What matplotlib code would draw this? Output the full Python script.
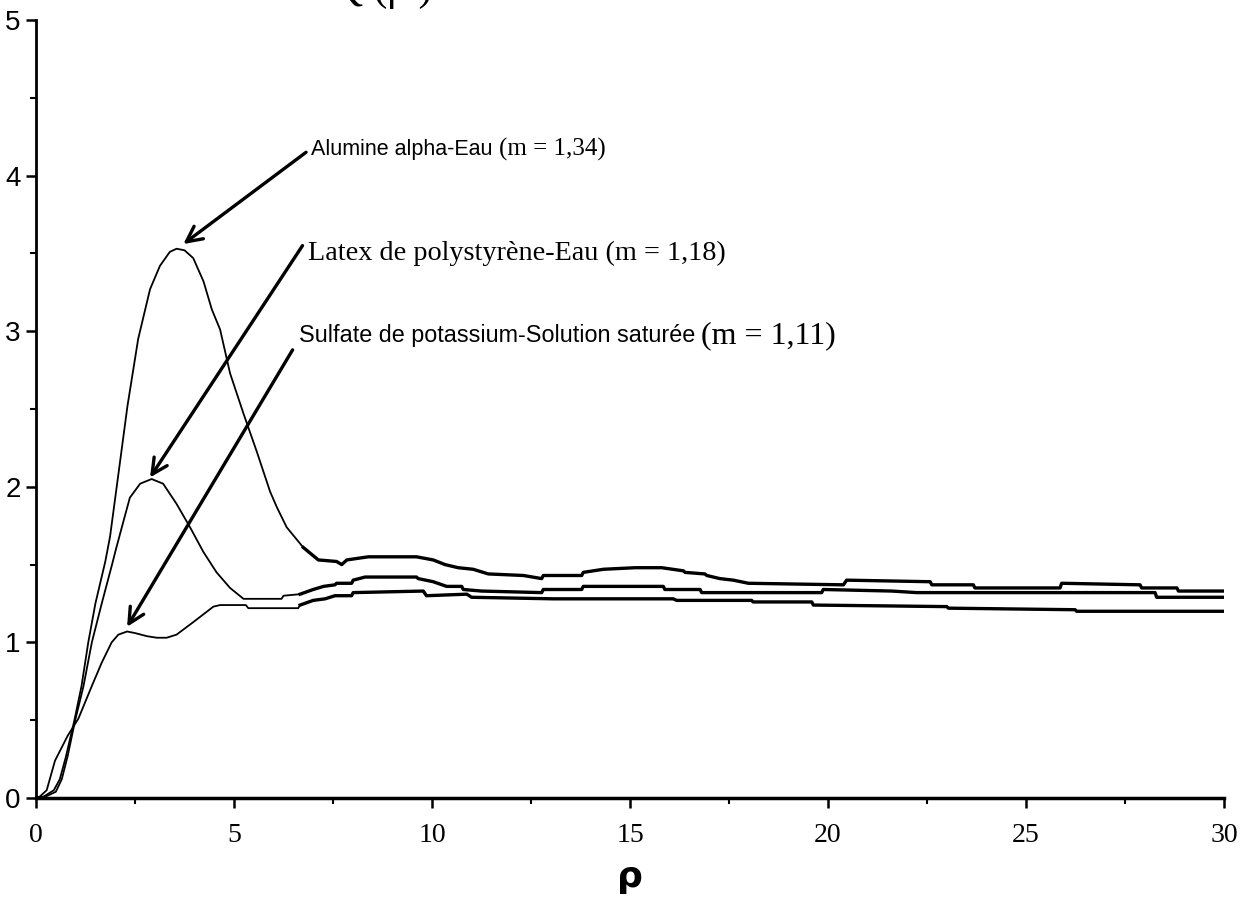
import matplotlib
matplotlib.use("Agg")
import matplotlib.pyplot as plt
from matplotlib.ticker import MultipleLocator

# Q(rho) curves
alumine_x = [0.0, 0.2, 0.45, 0.6, 0.75, 0.97, 1.15, 1.32, 1.5, 1.75, 1.87, 2.08, 2.31, 2.58,
             2.88, 3.13, 3.38, 3.55, 3.75, 3.97, 4.23, 4.44, 4.65, 4.9, 5.24, 5.57, 5.91, 6.08,
             6.33, 6.75, 7.13, 7.59, 7.72, 7.85, 8.39, 9.61, 10.03, 10.33, 10.66, 11.04, 11.42,
             12.31, 12.77, 12.81, 13.78, 13.82, 14.33, 15.13, 15.8, 16.35, 16.39, 16.89, 16.94,
             17.27, 17.61, 17.99, 20.39, 20.47, 22.58, 22.62, 23.67, 23.71, 25.86, 25.9, 27.88,
             27.92, 28.81, 28.85, 30.0]
alumine_y = [0.0, 0.01, 0.05, 0.12, 0.26, 0.5, 0.72, 1.0, 1.25, 1.52, 1.68, 2.08, 2.52, 2.95,
             3.27, 3.42, 3.51, 3.53, 3.52, 3.47, 3.32, 3.14, 3.01, 2.73, 2.47, 2.23, 1.97, 1.87,
             1.74, 1.61, 1.53, 1.52, 1.50, 1.53, 1.55, 1.55, 1.53, 1.50, 1.48, 1.47, 1.44,
             1.43, 1.41, 1.43, 1.43, 1.45, 1.47, 1.48, 1.48, 1.46, 1.45, 1.44, 1.43,
             1.41, 1.40, 1.38, 1.37, 1.40, 1.39, 1.37, 1.37, 1.35, 1.35, 1.38, 1.37,
             1.35, 1.35, 1.33, 1.33]

latex_x = [0.0, 0.25, 0.5, 0.65, 0.8, 0.99, 1.2, 1.41, 1.66, 1.92, 2.02, 2.21, 2.37, 2.63, 2.92,
           3.21, 3.55, 3.89, 4.23, 4.56, 4.9, 5.24, 6.2, 6.25, 6.67, 7.0, 7.26, 7.55, 7.59, 7.97,
           8.01, 8.31, 9.61, 9.65, 10.03, 10.37, 10.75, 10.79, 11.25, 12.77, 12.81, 13.78, 13.82,
           15.84, 15.88, 16.77, 16.81, 19.84, 19.88, 21.61, 22.24, 28.26, 28.3, 30.0]
latex_y = [0.0, 0.01, 0.04, 0.12, 0.27, 0.5, 0.72, 1.0, 1.25, 1.5, 1.6, 1.78, 1.93, 2.02, 2.05,
           2.02, 1.89, 1.74, 1.58, 1.45, 1.35, 1.28, 1.28, 1.30, 1.31, 1.34, 1.36, 1.37, 1.38, 1.38,
           1.40, 1.42, 1.42, 1.41, 1.39, 1.36, 1.36, 1.34, 1.33, 1.32, 1.34, 1.34, 1.36,
           1.36, 1.34, 1.34, 1.32, 1.32, 1.34, 1.33, 1.32, 1.32, 1.29, 1.29]

sulfate_x = [0.0, 0.1, 0.27, 0.48, 0.8, 1.07, 1.41, 1.66, 1.91, 2.08, 2.3, 2.5, 2.8, 3.05, 3.3,
             3.55, 3.97, 4.48, 4.65, 4.9, 5.3, 5.36, 6.62, 6.67, 7.0, 7.3, 7.55, 7.97, 8.01, 9.78,
             9.86, 10.88, 11.0, 13.07, 16.09, 16.18, 18.07, 18.11, 19.59, 19.63, 23.0, 23.04,
             26.24, 26.28, 30.0]
sulfate_y = [0.0, 0.01, 0.05, 0.24, 0.4, 0.51, 0.72, 0.87, 1.0, 1.05, 1.07, 1.06, 1.04, 1.03, 1.03,
             1.05, 1.13, 1.23, 1.24, 1.24, 1.24, 1.22, 1.22, 1.24, 1.27, 1.28, 1.30, 1.30, 1.32, 1.33,
             1.30, 1.31, 1.29, 1.28, 1.28, 1.27, 1.27, 1.26, 1.26, 1.24, 1.23, 1.22,
             1.21, 1.20, 1.20]

# label text: (sans part, serif part), text anchor, arrow tail and head
labels = [("Alumine alpha-Eau", "(m = 1,34)"),
          ("", "Latex de polystyrène-Eau (m = 1,18)"),
          ("Sulfate de potassium-Solution saturée", "(m = 1,11)")]
label_pos = [(6.95, 4.17), (6.88, 3.50), (6.63, 2.97)]
sans_size = [15.5, 0, 16.8]
serif_size = [18, 20.3, 23]
arrow_tail = [(6.82, 4.15), (6.73, 3.55), (6.48, 2.88)]
arrow_head = [(3.72, 3.56), (2.88, 2.06), (2.3, 1.10)]

fig = plt.figure(figsize=(12.49, 9.02), dpi=100)
ax = fig.add_axes([36 / 1249, 104 / 902, 1188 / 1249, 778 / 902])

for xs, ys in [(alumine_x, alumine_y), (latex_x, latex_y), (sulfate_x, sulfate_y)]:
    ax.plot(xs, ys, color="black", lw=1.3)
    # the flat tail of the scan prints heavier than the rising part
    k = next(i for i, v in enumerate(xs) if v >= 7)
    ax.plot(xs[k - 1:], ys[k - 1:], color="black", lw=2.4)

for (sans, serif), (tx, ty), s1, s2, tail, head in zip(labels, label_pos, sans_size,
                                                       serif_size, arrow_tail, arrow_head):
    ax.annotate("", xy=head, xytext=tail,
                arrowprops=dict(arrowstyle="->", lw=2.4, color="black",
                                mutation_scale=28, shrinkA=0, shrinkB=0))
    if sans:
        t = ax.text(tx, ty, sans + " ", family="Liberation Sans", fontsize=s1,
                    va="center", ha="left")
        ax.annotate(serif, xycoords=t, xy=(1, 0.5), va="center", ha="left",
                    family="Liberation Serif", fontsize=s2)
    else:
        ax.text(tx, ty, serif, family="Liberation Serif", fontsize=s2,
                va="center", ha="left")

ax.set_xlim(0, 30)
ax.set_ylim(0, 5)
ax.spines["top"].set_visible(False)
ax.spines["right"].set_visible(False)
ax.spines["left"].set_linewidth(2.0)
ax.spines["bottom"].set_linewidth(2.5)

ax.xaxis.set_major_locator(MultipleLocator(5))
ax.xaxis.set_minor_locator(MultipleLocator(2.5))
ax.yaxis.set_major_locator(MultipleLocator(1))
ax.yaxis.set_minor_locator(MultipleLocator(0.5))
ax.tick_params(which="major", length=7, width=1.8, direction="out")
ax.tick_params(which="minor", length=4, width=1.5, direction="out")
ax.tick_params(axis="x", pad=11)
ax.tick_params(axis="y", pad=4)

for lab in ax.get_xticklabels():
    lab.set_family("Liberation Serif")
    lab.set_fontsize(20)
for lab in ax.get_yticklabels():
    lab.set_family("Liberation Sans")
    lab.set_fontsize(20)

ax.set_xlabel("ρ", family="DejaVu Sans", fontsize=26, fontweight="bold", labelpad=9)

# title cut off by the top edge of the scan
fig.text(333 / 1249, 1.0, "Q (ρ )", family="Liberation Serif", fontsize=30,
         ha="left", va="baseline")

fig.savefig("out.png", dpi=100)
